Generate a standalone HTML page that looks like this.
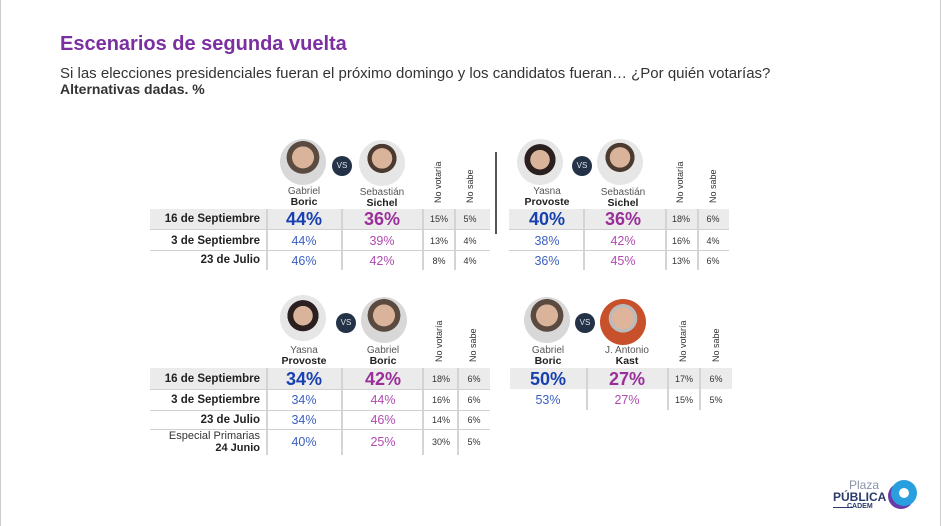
<!DOCTYPE html>
<html><head><meta charset="utf-8"><style>
body{margin:0;width:941px;height:526px;background:#fff;position:relative;overflow:hidden;font-family:"Liberation Sans",sans-serif;color:#222}
.a{position:absolute}
.t{white-space:nowrap}
.band{position:absolute;background:#ebebeb}
.hl{position:absolute;height:1px;background:#d0d0d0}
.vl{position:absolute;width:2px;background:#d4d4d4}
.c{position:absolute;text-align:center;transform:translateX(-50%);white-space:nowrap}
.lab{position:absolute;right:681px;font-weight:bold;font-size:11.5px;white-space:nowrap;text-align:right}
.big{font-size:18px;font-weight:bold}
.bl{color:#1840b0}.pu{color:#9a2f9a}
.bl2{color:#3a5fc0}.pu2{color:#b04ab0}
.sm{font-size:9px;color:#333}
.num{font-size:12.5px}
.ph{position:absolute;border-radius:50%;width:46px;height:46px;transform:translate(-50%,-50%);background:radial-gradient(circle at 50% 40%,#d9b49a 0 30%,#5a4a3f 31% 45%,#d8d8d8 46%)}
.vs{position:absolute;width:20px;height:20px;border-radius:50%;background:#243247;color:#dfe4ec;font-size:8px;line-height:20px;text-align:center;transform:translate(-50%,-50%)}
.nm{position:absolute;transform:translateX(-50%);text-align:center;font-size:10px;color:#555;line-height:11px;white-space:nowrap}
.nm b{color:#222;font-size:10.5px}
.rot{position:absolute;transform:rotate(-90deg);transform-origin:left top;font-size:9px;color:#333;white-space:nowrap}
</style></head><body>
<div class="a" style="left:0;top:0;width:1px;height:526px;background:#ccc"></div>
<div class="a" style="left:940px;top:0;width:1px;height:526px;background:#ccc"></div>
<div class="a t" style="left:60px;top:33px;font-size:20px;font-weight:bold;color:#7b2fa0">Escenarios de segunda vuelta</div>
<div class="a t" style="left:60px;top:65px;font-size:15px;color:#333">Si las elecciones presidenciales fueran el próximo domingo y los candidatos fueran… ¿Por quién votarías?</div>
<div class="a t" style="left:60px;top:81px;font-size:14px;font-weight:bold;color:#333">Alternativas dadas. %</div>

<!-- Table 1 -->
<div class="ph" style="left:303px;top:162px"></div><div class="ph" style="left:382px;top:163px;background:radial-gradient(circle at 50% 40%,#d9b49a 0 28%,#4a3a30 29% 40%,#e6e6e6 41%)"></div>
<div class="vs" style="left:342px;top:166px">VS</div>
<div class="nm" style="left:304px;top:186px">Gabriel<br><b>Boric</b></div>
<div class="nm" style="left:382px;top:187px">Sebastián<br><b>Sichel</b></div>
<div class="rot" style="left:433px;top:203px">No votaría</div>
<div class="rot" style="left:465px;top:203px">No sabe</div>
<div class="band" style="left:150px;top:209px;width:340px;height:20px"></div>
<div class="hl" style="left:150px;top:250px;width:340px"></div><div class="hl" style="left:150px;top:229px;width:340px"></div>
<div class="vl" style="left:266px;top:209px;height:61px"></div><div class="vl" style="left:341px;top:209px;height:61px"></div><div class="vl" style="left:422px;top:209px;height:61px"></div><div class="vl" style="left:454px;top:209px;height:61px"></div>
<div class="lab" style="top:213px">16 de Septiembre</div>
<div class="lab" style="top:235px">3 de Septiembre</div>
<div class="lab" style="top:254px">23 de Julio</div>
<div class="c big bl" style="left:304px;top:209px">44%</div><div class="c big pu" style="left:382px;top:209px">36%</div><div class="c sm" style="left:439px;top:214px">15%</div><div class="c sm" style="left:470px;top:214px">5%</div>
<div class="c num bl2" style="left:304px;top:234px">44%</div><div class="c num pu2" style="left:382px;top:234px">39%</div><div class="c sm" style="left:439px;top:236px">13%</div><div class="c sm" style="left:470px;top:236px">4%</div>
<div class="c num bl2" style="left:304px;top:254px">46%</div><div class="c num pu2" style="left:382px;top:254px">42%</div><div class="c sm" style="left:439px;top:256px">8%</div><div class="c sm" style="left:470px;top:256px">4%</div>

<!-- Table 2 -->
<div class="a" style="left:495px;top:152px;width:2px;height:82px;background:#555"></div>
<div class="ph" style="left:540px;top:162px;background:radial-gradient(circle at 50% 45%,#d9b49a 0 28%,#2a2020 29% 45%,#e6e6e6 46%)"></div><div class="ph" style="left:620px;top:162px;background:radial-gradient(circle at 50% 40%,#d9b49a 0 28%,#4a3a30 29% 40%,#e6e6e6 41%)"></div>
<div class="vs" style="left:582px;top:166px">VS</div>
<div class="nm" style="left:547px;top:186px">Yasna<br><b>Provoste</b></div>
<div class="nm" style="left:623px;top:187px">Sebastián<br><b>Sichel</b></div>
<div class="rot" style="left:675px;top:203px">No votaría</div>
<div class="rot" style="left:708px;top:203px">No sabe</div>
<div class="band" style="left:509px;top:209px;width:220px;height:20px"></div>
<div class="hl" style="left:509px;top:229px;width:220px"></div><div class="hl" style="left:509px;top:250px;width:220px"></div>
<div class="vl" style="left:583px;top:209px;height:61px"></div><div class="vl" style="left:665px;top:209px;height:61px"></div><div class="vl" style="left:697px;top:209px;height:61px"></div>
<div class="c big bl" style="left:547px;top:209px">40%</div><div class="c big pu" style="left:623px;top:209px">36%</div><div class="c sm" style="left:681px;top:214px">18%</div><div class="c sm" style="left:713px;top:214px">6%</div>
<div class="c num bl2" style="left:547px;top:234px">38%</div><div class="c num pu2" style="left:623px;top:234px">42%</div><div class="c sm" style="left:681px;top:236px">16%</div><div class="c sm" style="left:713px;top:236px">4%</div>
<div class="c num bl2" style="left:547px;top:254px">36%</div><div class="c num pu2" style="left:623px;top:254px">45%</div><div class="c sm" style="left:681px;top:256px">13%</div><div class="c sm" style="left:713px;top:256px">6%</div>

<!-- Table 3 -->
<div class="ph" style="left:303px;top:318px;background:radial-gradient(circle at 50% 45%,#d9b49a 0 28%,#2a2020 29% 45%,#e6e6e6 46%)"></div><div class="ph" style="left:384px;top:320px"></div>
<div class="vs" style="left:346px;top:323px">VS</div>
<div class="nm" style="left:304px;top:345px">Yasna<br><b>Provoste</b></div>
<div class="nm" style="left:383px;top:345px">Gabriel<br><b>Boric</b></div>
<div class="rot" style="left:434px;top:362px">No votaría</div>
<div class="rot" style="left:468px;top:362px">No sabe</div>
<div class="band" style="left:150px;top:368px;width:340px;height:21px"></div>
<div class="hl" style="left:150px;top:389px;width:340px"></div><div class="hl" style="left:150px;top:410px;width:340px"></div><div class="hl" style="left:150px;top:429px;width:340px"></div>
<div class="vl" style="left:266px;top:368px;height:87px"></div><div class="vl" style="left:341px;top:368px;height:87px"></div><div class="vl" style="left:422px;top:368px;height:87px"></div><div class="vl" style="left:457px;top:368px;height:87px"></div>
<div class="lab" style="top:373px">16 de Septiembre</div>
<div class="lab" style="top:394px">3 de Septiembre</div>
<div class="lab" style="top:414px">23 de Julio</div>
<div class="a t" style="right:681px;top:430px;text-align:right;font-size:11px;line-height:12px;color:#333">Especial Primarias<br><b style="color:#222">24 Junio</b></div>
<div class="c big bl" style="left:304px;top:369px">34%</div><div class="c big pu" style="left:383px;top:369px">42%</div><div class="c sm" style="left:441px;top:374px">18%</div><div class="c sm" style="left:474px;top:374px">6%</div>
<div class="c num bl2" style="left:304px;top:393px">34%</div><div class="c num pu2" style="left:383px;top:393px">44%</div><div class="c sm" style="left:441px;top:395px">16%</div><div class="c sm" style="left:474px;top:395px">6%</div>
<div class="c num bl2" style="left:304px;top:413px">34%</div><div class="c num pu2" style="left:383px;top:413px">46%</div><div class="c sm" style="left:441px;top:415px">14%</div><div class="c sm" style="left:474px;top:415px">6%</div>
<div class="c num bl2" style="left:304px;top:435px">40%</div><div class="c num pu2" style="left:383px;top:435px">25%</div><div class="c sm" style="left:441px;top:437px">30%</div><div class="c sm" style="left:474px;top:437px">5%</div>

<!-- Table 4 -->
<div class="ph" style="left:547px;top:320px"></div><div class="ph" style="left:623px;top:322px;background:radial-gradient(circle at 50% 42%,#e0b49a 0 30%,#bbb 31% 40%,#c8502a 41%)"></div>
<div class="vs" style="left:585px;top:323px">VS</div>
<div class="nm" style="left:548px;top:345px">Gabriel<br><b>Boric</b></div>
<div class="nm" style="left:627px;top:345px">J. Antonio<br><b>Kast</b></div>
<div class="rot" style="left:678px;top:362px">No votaría</div>
<div class="rot" style="left:711px;top:362px">No sabe</div>
<div class="band" style="left:510px;top:368px;width:222px;height:21px"></div>
<div class="vl" style="left:586px;top:368px;height:42px"></div><div class="vl" style="left:667px;top:368px;height:42px"></div><div class="vl" style="left:699px;top:368px;height:42px"></div>
<div class="c big bl" style="left:548px;top:369px">50%</div><div class="c big pu" style="left:627px;top:369px">27%</div><div class="c sm" style="left:684px;top:374px">17%</div><div class="c sm" style="left:716px;top:374px">6%</div>
<div class="c num bl2" style="left:548px;top:393px">53%</div><div class="c num pu2" style="left:627px;top:393px">27%</div><div class="c sm" style="left:684px;top:395px">15%</div><div class="c sm" style="left:716px;top:395px">5%</div>

<!-- Logo -->
<div class="a t" style="left:849px;top:478px;font-size:12px;color:#8a94a8">Plaza</div>
<div class="a t" style="left:833px;top:490px;font-size:12px;font-weight:bold;color:#2a3a6a">PÚBLICA</div>
<div class="a t" style="left:847px;top:503px;font-size:7px;font-weight:bold;color:#2a3a6a">CADEM</div>
<div class="a" style="left:833px;top:507px;width:20px;height:1px;background:#2a3a6a"></div>
<div class="a" style="left:891px;top:480px;width:26px;height:26px;border-radius:50%;background:#2a9fe0;border:0;box-shadow:-3px 3px 0 #6a3aa8"></div>
<div class="a" style="left:899px;top:488px;width:10px;height:10px;border-radius:50%;background:#fff"></div>
</body></html>
